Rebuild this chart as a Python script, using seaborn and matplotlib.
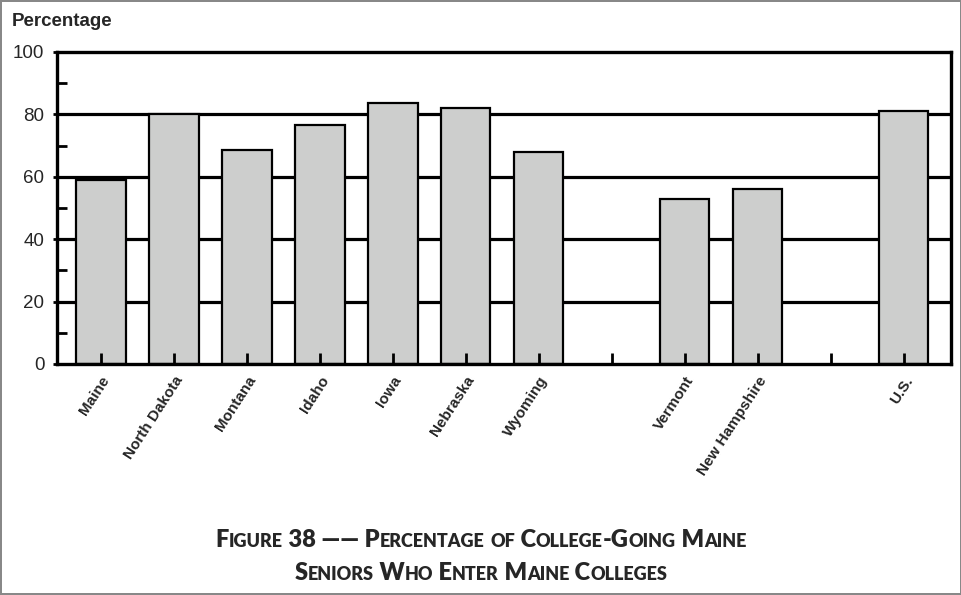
import seaborn as sns
import matplotlib.pyplot as plt
import pandas as pd

# data
states = ['Maine', 'North Dakota', 'Montana', 'Idaho', 'Iowa', 'Nebraska',
          'Wyoming', 'Vermont', 'New Hampshire', 'U.S.']
pct = [59, 80, 68.5, 76.5, 83.7, 82, 68, 52.8, 56, 81]
# empty slots keep the gaps between groups
slots = ['Maine', 'North Dakota', 'Montana', 'Idaho', 'Iowa', 'Nebraska',
         'Wyoming', ' ', 'Vermont', 'New Hampshire', '  ', 'U.S.']
yticks = [0, 20, 40, 60, 80, 100]

df = pd.DataFrame({'state': states, 'pct': pct})

sns.set_theme(style='white')
plt.rcParams['font.family'] = ['Liberation Sans', 'DejaVu Sans']

fig = plt.figure(figsize=(9.62, 5.95), dpi=100)
fig.patch.set_edgecolor('#888888')
fig.patch.set_linewidth(1.5)
ax = fig.add_axes([57 / 962, 1 - 364 / 595, (951 - 57) / 962, (364 - 52) / 595])

sns.barplot(data=df, x='state', y='pct', order=slots, color='#cdcecd',
            saturation=1, width=0.68, edgecolor='black', linewidth=1.6, ax=ax)

for v in yticks[1:-1]:
    ax.axhline(v, color='black', lw=2.3, zorder=0.5)

ax.set_ylim(0, 100)
ax.set_xlim(-0.6, 11.65)
ax.set_yticks(yticks)
ax.set_yticks([10, 30, 50, 70, 90], minor=True)
ax.set_axisbelow(False)
ax.tick_params(axis='y', which='major', direction='out', length=3, width=2,
               color='black', labelsize=13.5, pad=6, left=True)
ax.tick_params(axis='y', which='minor', direction='in', length=7, width=2,
               color='black', left=True)
ax.tick_params(axis='x', direction='in', length=8, width=2, color='black',
               bottom=True, pad=7)
ax.set_xticks(range(len(slots)))
ax.set_xticklabels(slots, rotation=57, ha='right', rotation_mode='anchor',
                   fontsize=11, fontweight='bold')
ax.set_xlabel('')
ax.set_ylabel('')
for s in ax.spines.values():
    s.set_visible(True)
    s.set_color('black')
    s.set_linewidth(2.4)

fig.text(12 / 962, 1 - 26 / 595, 'Percentage', fontsize=13.5,
         fontweight='bold', va='baseline')


def small_caps(text, y, big=17, small=13):
    # fake small caps: lowercase letters drawn as smaller capitals
    runs = []
    for ch in text:
        low = ch.islower()
        if runs and runs[-1][1] == low:
            runs[-1][0] += ch
        else:
            runs.append([ch, low])
    r = fig.canvas.get_renderer()
    items = []
    for s, low in runs:
        t = fig.text(0, y, s.upper() if low else s, fontsize=small if low else big,
                     fontweight='heavy', family=['Lato', 'DejaVu Sans'],
                     va='baseline', ha='left')
        items.append(t)
    widths = [t.get_window_extent(r).width for t in items]
    x = (962 / 2 - sum(widths) / 2)
    for t, w in zip(items, widths):
        t.set_x(x / 962)
        x += w


small_caps('Figure 38 \u2014\u2014 Percentage of College-Going Maine', 1 - 547 / 595)
small_caps('Seniors Who Enter Maine Colleges', 1 - 580 / 595)

fig.savefig('out.png', dpi=100)
